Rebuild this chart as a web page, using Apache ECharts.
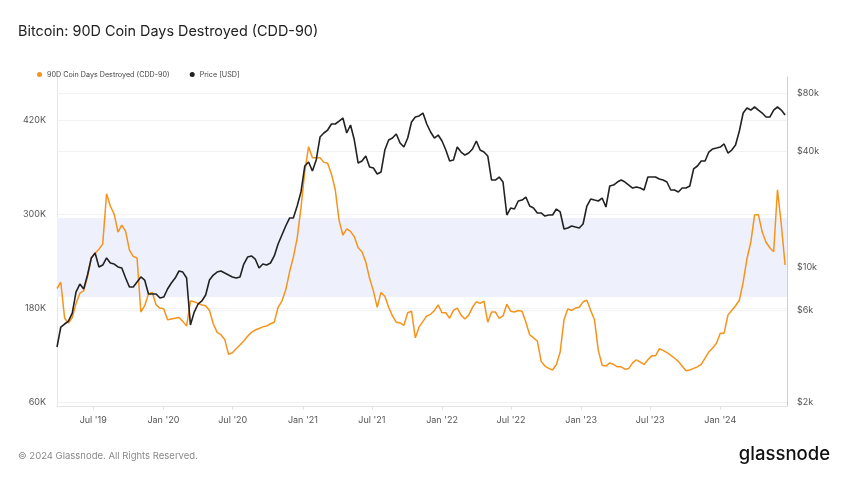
<!DOCTYPE html>
<html><head><meta charset="utf-8">
<script src="https://cdn.jsdelivr.net/npm/echarts@6/dist/echarts.min.js"></script>
<style>html,body{margin:0;padding:0;background:#fff}#c{width:848px;height:477px}</style>
</head><body><div id="c"></div>
<script>
// ---- data ----
const startUTC = [2019, 2, 28];   // first sample: 28 Mar 2019
const stepDays = 10;               // one sample every 10 days
const endUTC = [2024, 5, 24];      // axis end

const cdd90K = [
 205,213,167,161,168,186,199,202,220,244,
 250,255,262,326,310,300,277,286,278,254,
 246,244,175,183,198,200,184,180,179,165,
 166,167,168,163,157,189,188,186,184,183,
 177,160,149,146,140,121,123,128,133,138,
 144,149,152,154,156,157,160,162,181,189,
 203,226,245,269,308,354,386,372,372,372,
 366,365,351,331,292,273,281,278,271,257,
 252,239,218,202,181,200,195,181,170,162,
 161,158,174,176,142,156,163,170,172,177,
 184,174,174,167,177,180,171,166,171,181,
 188,186,189,162,175,175,167,170,185,176,
 175,177,176,162,146,142,138,112,106,103,
 101,108,124,165,179,177,180,181,188,190,
 177,165,126,107,106,110,108,105,105,102,
 103,110,114,111,108,114,119,119,128,126,
 123,120,116,112,106,100,101,103,105,108,
 116,124,129,135,148,148,171,177,183,190,
 213,243,264,299,299,277,264,257,252,331,
 287,235
];

const priceUSD = [
 3860,4900,5080,5260,5790,7450,8190,7720,9120,11180,
 11870,10040,10280,11180,10530,10400,10040,9920,8800,7900,
 7900,8390,8910,8590,7270,7270,7270,6930,7010,7720,
 8290,8800,9570,9450,8800,5020,5860,6450,6690,7180,
 8590,9120,9450,9570,9340,9120,8910,8800,8910,10400,
 11310,11450,11040,9920,10400,10280,10530,11450,13210,14710,
 16380,18020,18020,20800,24600,33560,35200,31600,36060,47450,
 49780,51580,55430,55430,57440,59540,49780,54780,45770,34780,
 35620,37820,33160,32770,30500,31230,40620,45770,46880,49180,
 44170,42100,46880,56760,60260,61000,63200,55430,50360,46880,
 48600,45240,40620,35620,36060,42100,39660,38250,39180,41120,
 45240,40620,39660,37820,28380,28380,29420,27710,18680,20310,
 20070,22090,22350,23160,20800,20310,19140,19140,18460,18680,
 18680,20070,19370,15810,16000,16380,16180,16000,16780,20800,
 22620,22350,22090,22890,20550,26420,26740,27710,28380,27710,
 26740,25800,26110,25800,25200,29420,29420,29420,28730,28380,
 27710,25200,25200,24600,25800,25800,26420,32380,33560,35620,
 35620,39660,41120,41600,42100,43650,39180,40620,43140,50970,
 63200,67120,65520,67920,65520,63200,60260,60260,65520,67920,
 65520,61710
];

const xTickDates = [[2019,7,1],[2020,1,1],[2020,7,1],[2021,1,1],[2021,7,1],[2022,1,1],[2022,7,1],[2023,1,1],[2023,7,1],[2024,1,1]];
const leftTicksK = [60, 180, 300, 420];
const rightTicksUSD = [2000, 6000, 10000, 40000, 80000];
const bandK = [194, 295];
const leftRangeK = [55, 475];
const rightRangeUSD = [1907, 97200];

// ---- build ----
const DAY = 86400000;
const t0 = Date.UTC(startUTC[0], startUTC[1], startUTC[2]);
const tEnd = Date.UTC(endUTC[0], endUTC[1], endUTC[2]);
const cddData = cdd90K.map((v, i) => [t0 + i * stepDays * DAY, v]);
const priceData = priceUSD.map((v, i) => [t0 + i * stepDays * DAY, v]);
const xTicks = xTickDates.map(d => Date.UTC(d[0], d[1] - 1, d[2]));
const MONTHS = ['Jan','Feb','Mar','Apr','May','Jun','Jul','Aug','Sep','Oct','Nov','Dec'];
const FONT = 'Inter, "Noto Sans", sans-serif';

const chart = echarts.init(document.getElementById('c'), null, {renderer: 'canvas'});
chart.setOption({
  animation: false,
  backgroundColor: '#fff',
  textStyle: {fontFamily: FONT},
  title: {
    text: 'Bitcoin: 90D Coin Days Destroyed (CDD-90)',
    left: 13, top: 20,
    textStyle: {fontFamily: FONT, fontSize: 14.4, fontWeight: 'normal', color: '#222'}
  },
  legend: {
    left: 32, top: 66,
    icon: 'circle', itemWidth: 5, itemHeight: 5, itemGap: 20,
    textStyle: {fontFamily: FONT, fontSize: 7.2, color: '#444'},
    data: ['90D Coin Days Destroyed (CDD-90)', 'Price [USD]']
  },
  grid: {left: 57, right: 61, top: 77, bottom: 71, containLabel: false},
  xAxis: {
    type: 'value', min: t0, max: tEnd,
    axisLine: {show: true, lineStyle: {color: '#e3e3e3'}},
    axisTick: {show: true, customValues: xTicks, length: 4, lineStyle: {color: '#e3e3e3'}},
    axisLabel: {
      customValues: xTicks, color: '#555', fontSize: 9, fontFamily: FONT, margin: 10,
      formatter: v => { const d = new Date(v); return MONTHS[d.getUTCMonth()] + " '" + String(d.getUTCFullYear()).slice(2); }
    },
    splitLine: {show: false}
  },
  yAxis: [{
    type: 'value', position: 'left', min: leftRangeK[0], max: leftRangeK[1],
    axisLine: {show: true, lineStyle: {color: '#fde3c3', width: 1}},
    axisTick: {show: false, customValues: leftTicksK},
    axisLabel: {customValues: leftTicksK, formatter: v => v + 'K', color: '#555', fontSize: 9, fontFamily: FONT, margin: 11},
    splitLine: {show: true, lineStyle: {color: '#f3f3f3'}}
  }, {
    type: 'log', logBase: 10, position: 'right', min: rightRangeUSD[0], max: rightRangeUSD[1],
    axisLine: {show: true, lineStyle: {color: '#cfcfcf', width: 1}},
    axisTick: {show: false, customValues: rightTicksUSD},
    axisLabel: {customValues: rightTicksUSD, formatter: v => '$' + Math.round(v / 1000) + 'k', color: '#555', fontSize: 9, fontFamily: FONT, margin: 10},
    splitLine: {show: true, lineStyle: {color: '#f3f3f3'}}
  }],
  series: [{
    name: '90D Coin Days Destroyed (CDD-90)', type: 'line', yAxisIndex: 0,
    data: cddData, showSymbol: false, symbol: 'circle',
    itemStyle: {color: '#f7931a'},
    lineStyle: {color: '#f7931a', width: 1.5},
    markArea: {
      silent: true,
      itemStyle: {color: '#eef1fc'},
      data: [[{yAxis: bandK[0]}, {yAxis: bandK[1]}]]
    },
    z: 2
  }, {
    name: 'Price [USD]', type: 'line', yAxisIndex: 1,
    data: priceData, showSymbol: false, symbol: 'circle',
    itemStyle: {color: '#222'},
    lineStyle: {color: '#222', width: 1.6},
    z: 3
  }],
  graphic: [{
    type: 'text', left: 18, top: 451,
    style: {text: '© 2024 Glassnode. All Rights Reserved.', fill: '#8a8a8a', fontSize: 9.5, fontFamily: FONT}
  }, {
    type: 'text', right: 18, top: 445,
    style: {text: 'glassnode', fill: '#111', fontSize: 18.5, fontFamily: FONT, fontWeight: 500}
  }]
});
</script>
</body></html>
